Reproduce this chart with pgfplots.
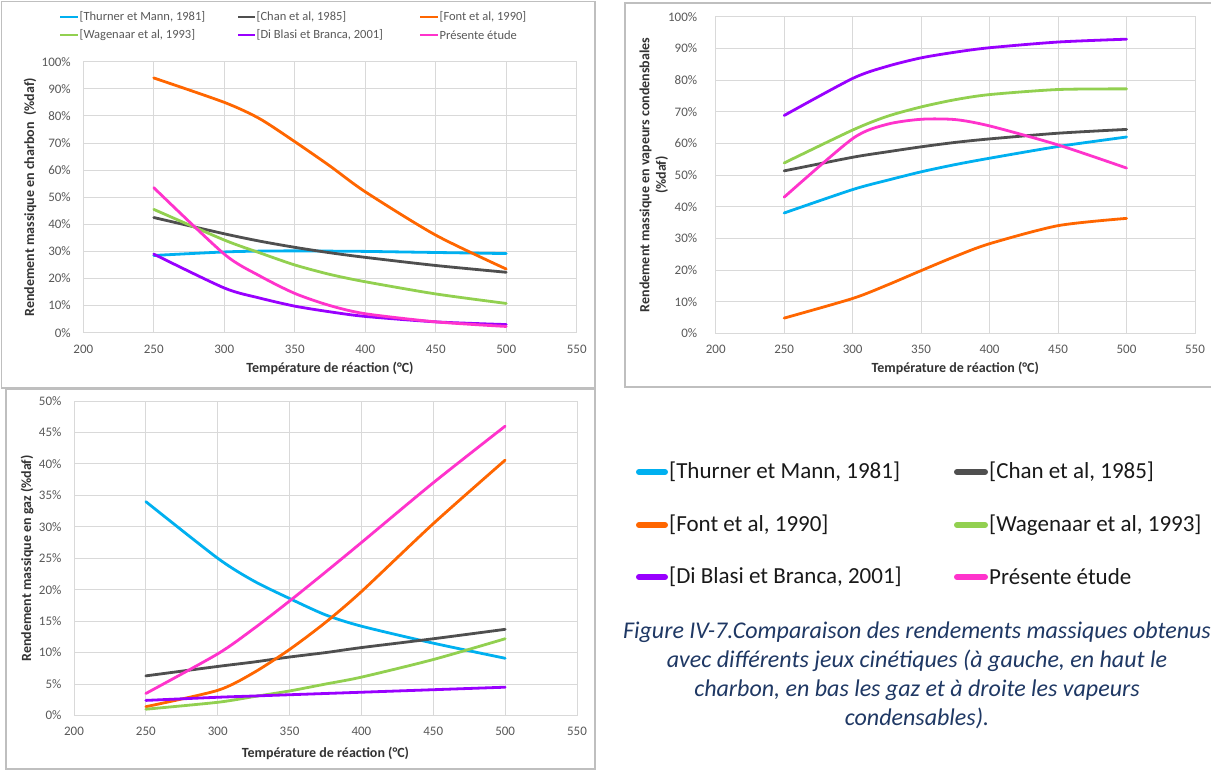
\documentclass[border=0pt]{standalone}
\usepackage{pgfplots}
\usepackage{pgfplotstable}
\pgfplotsset{compat=1.18}
\usepackage{fontspec}
\setmainfont{Carlito}
\definecolor{cThu}{HTML}{00B0F0}
\definecolor{cCha}{HTML}{4F4F4F}
\definecolor{cFon}{HTML}{FF6600}
\definecolor{cWag}{HTML}{92D050}
\definecolor{cDib}{HTML}{9900FF}
\definecolor{cPre}{HTML}{FF33CC}
\definecolor{tickc}{HTML}{595959}
\definecolor{gridc}{HTML}{D9D9D9}
\definecolor{framec}{HTML}{BFBFBF}
\definecolor{capc}{HTML}{1F3864}

\pgfplotstableread{
T   Thu  Cha  Fon  Wag  Dib  Pre
250 28.5 42.5 94   45.5 29   53.5
300 29.8 36.5 85   34.2 16.5 29
325 30.1 33.8 79   29.5 12.8 21
350 30.2 31.5 70.5 25   9.8  14.5
375 30.1 29.5 61.5 21.5 7.7  10
400 30   27.8 52   18.8 6    7
450 29.6 24.8 36   14.3 4    4
500 29.2 22.3 23.5 10.8 3    2.3
}\charbon
\pgfplotstableread{
T   Thu  Cha  Fon  Wag  Dib  Pre
250 38   51.3 4.8  53.8 68.8 43
300 45.4 55.6 11   64.2 80.5 61.5
325 48.3 57.3 15.2 68.5 84.3 66
350 51   58.9 19.8 71.5 87   67.6
375 53.3 60.3 24.3 73.8 88.8 67.5
400 55.3 61.4 28.3 75.4 90.2 65.5
450 59   63.2 34   77   92   59.5
500 62   64.4 36.3 77.2 92.9 52.2
}\vapeurs
\pgfplotstableread{
T   Thu  Cha  Fon  Wag  Dib  Pre
250 34   6.3  1.4  1    2.4  3.5
300 25   7.8  4    2.1  2.9  9.8
325 21.4 8.5  6.8  3    3.1  13.8
350 18.6 9.3  10.5 3.9  3.3  18.2
375 16   10   14.8 5    3.5  22.8
400 14.2 10.8 19.7 6.1  3.7  27.5
450 11.5 12.2 30.5 8.9  4.1  37
500 9.1  13.7 40.6 12.2 4.5  46
}\gaz

\pgfplotsset{
  excel/.style={
    scale only axis,
    anchor=south west,
    xmin=200, xmax=550, xtick={200,250,...,550},
    ymin=0,
    grid=major,
    major grid style={draw=gridc, line width=0.9pt},
    axis line style={draw=gridc, line width=0.9pt},
    major tick length=0pt,
    tick label style={font=\fontsize{13}{15}\selectfont, text=tickc},
    xticklabel style={yshift=-8.5pt},
    yticklabel style={xshift=-9pt},
    /pgf/number format/assume math mode=true,
    /pgf/number format/1000 sep={},
    yticklabel={\pgfmathprintnumber{\tick}\%},
    xlabel={Température de réaction (°C)},
    label style={font=\fontsize{14}{16.5}\selectfont\bfseries, text=black!80},
    every axis plot/.append style={line width=2.8pt, smooth, tension=0.45, no markers, line cap=round},
  }
}

\begin{document}
\begin{tikzpicture}
\path[use as bounding box] (0pt,0pt) rectangle (1211pt,-770pt);
\fill[white] (0pt,0pt) rectangle (1211pt,-770pt);

% panel frames
\draw[framec, line width=1.2pt] (1.5pt,-1.5pt) rectangle (595pt,-388pt);
\draw[framec, line width=1.2pt] (625pt,-3pt) rectangle (1220pt,-387pt);
\draw[framec, line width=1.2pt] (6pt,-389.5pt) rectangle (595pt,-769pt);

% ---------- charbon ----------
\begin{axis}[excel,
  at={(83.3pt,-332.7pt)}, width=493.4pt, height=271pt,
  ymax=100, ytick={0,10,...,100},
  ylabel={Rendement massique en charbon\ \ (\%daf)},
  xlabel style={at={(axis description cs:0.5,-0.132)}, anchor=center},
  ylabel style={at={(axis description cs:-0.108,0.5)}, anchor=center},
]
\addplot[cThu] table[x=T,y=Thu] {\charbon};
\addplot[cCha] table[x=T,y=Cha] {\charbon};
\addplot[cFon] table[x=T,y=Fon] {\charbon};
\addplot[cWag] table[x=T,y=Wag] {\charbon};
\addplot[cDib] table[x=T,y=Dib] {\charbon};
\addplot[cPre] table[x=T,y=Pre] {\charbon};
\end{axis}

% ---------- vapeurs ----------
\begin{axis}[excel,
  at={(715.7pt,-333.3pt)}, width=479.3pt, height=316.6pt,
  ymax=100, ytick={0,10,...,100},
  yticklabel style={xshift=-6pt},
  ylabel={Rendement massique en vapeurs condensbales\\(\%daf)},
  xlabel style={at={(axis description cs:0.5,-0.11)}, anchor=center},
  ylabel style={at={(axis description cs:-0.129,0.5)}, anchor=center, align=center},
]
\addplot[cThu] table[x=T,y=Thu] {\vapeurs};
\addplot[cCha] table[x=T,y=Cha] {\vapeurs};
\addplot[cFon] table[x=T,y=Fon] {\vapeurs};
\addplot[cWag] table[x=T,y=Wag] {\vapeurs};
\addplot[cDib] table[x=T,y=Dib] {\vapeurs};
\addplot[cPre] table[x=T,y=Pre] {\vapeurs};
\end{axis}

% ---------- gaz ----------
\begin{axis}[excel,
  at={(74pt,-715.5pt)}, width=503pt, height=314.5pt,
  ymax=50, ytick={0,5,...,50},
  ylabel={Rendement massique en gaz (\%daf)},
  xlabel style={at={(axis description cs:0.5,-0.122)}, anchor=center},
  ylabel style={at={(axis description cs:-0.0934,0.5)}, anchor=center},
]
\addplot[cThu] table[x=T,y=Thu] {\gaz};
\addplot[cCha] table[x=T,y=Cha] {\gaz};
\addplot[cFon] table[x=T,y=Fon] {\gaz};
\addplot[cWag] table[x=T,y=Wag] {\gaz};
\addplot[cDib] table[x=T,y=Dib] {\gaz};
\addplot[cPre] table[x=T,y=Pre] {\gaz};
\end{axis}

% ---------- small legend (top-left panel) ----------
\begin{scope}[every node/.style={anchor=west, inner sep=0pt, font=\fontsize{12.5}{14}\selectfont, text=tickc}]
\draw[cThu, line width=2.8pt] (60pt,-17pt) -- (78pt,-17pt);
\node at (79.5pt,-17pt) {[Thurner et Mann, 1981]};
\draw[cCha, line width=2.8pt] (238pt,-17pt) -- (255pt,-17pt);
\node at (256.5pt,-17pt) {[Chan et al, 1985]};
\draw[cFon, line width=2.8pt] (420pt,-17pt) -- (438pt,-17pt);
\node at (439.5pt,-17pt) {[Font et al, 1990]};
\draw[cWag, line width=2.8pt] (60pt,-35pt) -- (78pt,-35pt);
\node at (79.5pt,-35pt) {[Wagenaar et al, 1993]};
\draw[cDib, line width=2.8pt] (238pt,-35pt) -- (255pt,-35pt);
\node at (256.5pt,-35pt) {[Di Blasi et Branca, 2001]};
\draw[cPre, line width=2.8pt] (420pt,-35pt) -- (438pt,-35pt);
\node at (439.5pt,-35pt) {Présente étude};
\end{scope}

% ---------- large legend (bottom-right) ----------
\begin{scope}[every node/.style={anchor=west, inner sep=0pt, font=\fontsize{23}{28}\selectfont, text=black!90}]
\draw[cThu, line width=6pt, line cap=round] (639pt,-472pt) -- (665pt,-472pt);
\node at (669pt,-472pt) {[Thurner et Mann, 1981]};
\draw[cCha, line width=6pt, line cap=round] (957pt,-472pt) -- (985pt,-472pt);
\node at (989pt,-472pt) {[Chan et al, 1985]};
\draw[cFon, line width=6pt, line cap=round] (639pt,-525pt) -- (665pt,-525pt);
\node at (669pt,-525pt) {[Font et al, 1990]};
\draw[cWag, line width=6pt, line cap=round] (957pt,-525pt) -- (985pt,-525pt);
\node at (989pt,-525pt) {[Wagenaar et al, 1993]};
\draw[cDib, line width=6pt, line cap=round] (639pt,-577pt) -- (665pt,-577pt);
\node at (669pt,-577pt) {[Di Blasi et Branca, 2001]};
\draw[cPre, line width=6pt, line cap=round] (957pt,-577pt) -- (985pt,-577pt);
\node at (989pt,-577pt) {Présente étude};
\end{scope}

% ---------- caption ----------
\node[anchor=north, inner sep=0pt, align=center, text=capc,
      font=\fontsize{24}{29}\selectfont\itshape] at (917pt,-622pt)
  {Figure IV-7.Comparaison des rendements massiques obtenus\\
   avec différents jeux cinétiques (à gauche, en haut le\\
   charbon, en bas les gaz et à droite les vapeurs\\
   condensables).};
\end{tikzpicture}
\end{document}
